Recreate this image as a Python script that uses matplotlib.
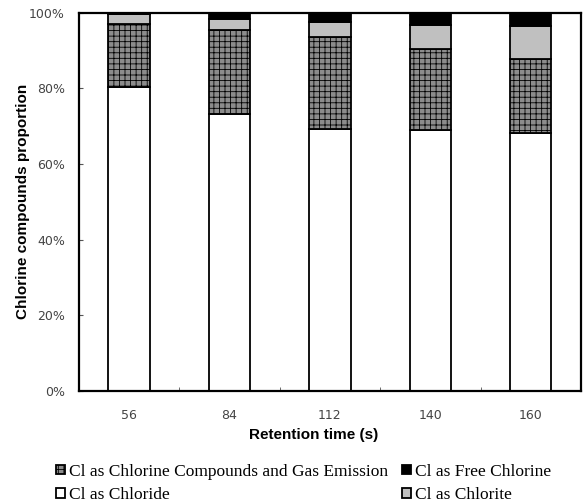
import matplotlib
matplotlib.use("Agg")
import matplotlib.pyplot as plt
import numpy as np

# retention time categories
times = ["56", "84", "112", "140", "160"]

# proportions (%), bottom to top
chloride = [80.4, 73.2, 69.2, 68.9, 68.1]
compounds = [16.6, 22.2, 24.3, 21.5, 19.6]
chlorite = [2.6, 2.9, 3.9, 6.3, 8.7]
free_cl = [0.4, 1.7, 2.6, 3.3, 3.6]

plt.rcParams['hatch.color'] = '#3a3a3a'
plt.rcParams['hatch.linewidth'] = 0.6

fig = plt.figure(figsize=(5.84, 5.04), dpi=100)
ax = fig.add_axes([0.135, 0.224, 0.86, 0.751])

x = np.arange(len(times))
w = 0.41
edge = dict(edgecolor='black', linewidth=1.3)

b_chloride = ax.bar(x, chloride, w, color='white', **edge)
bottom = np.array(chloride)
b_comp = ax.bar(x, compounds, w, bottom=bottom, color='#8c8c8c', hatch='+++', **edge)
bottom = bottom + np.array(compounds)
b_chlorite = ax.bar(x, chlorite, w, bottom=bottom, color='#c0c0c0', **edge)
bottom = bottom + np.array(chlorite)
b_free = ax.bar(x, free_cl, w, bottom=bottom, color='black', **edge)

ax.set_xlim(-0.5, len(times) - 0.5)
ax.set_ylim(0, 100)
ax.set_yticks(np.arange(0, 101, 20))
ax.set_yticklabels([f"{v}%" for v in range(0, 101, 20)])
ax.set_xticks(x)
ax.set_xticklabels(times)
ax.set_xticks(np.arange(0.5, len(times) - 1, 1), minor=True)
ax.tick_params(axis='x', which='major', length=0, pad=13)
ax.tick_params(axis='x', which='minor', direction='in', length=3, color='#555')
ax.tick_params(axis='y', direction='in', length=3, color='#555', pad=10)
for lab in ax.get_xticklabels() + ax.get_yticklabels():
    lab.set_fontsize(9)
    lab.set_color('#444')
    lab.set_family('DejaVu Sans')

for s in ax.spines.values():
    s.set_linewidth(1.6)
    s.set_color('black')

ax.set_xlabel("Retention time (s)", fontsize=11, fontweight='bold',
              family='Liberation Sans')
ax.set_ylabel("Chlorine compounds proportion", fontsize=11, fontweight='bold',
              family='Liberation Sans')
ax.xaxis.set_label_coords(0.467, -0.098)
ax.yaxis.set_label_coords(-0.098, 0.5)

handles = [b_comp, b_chloride, b_free, b_chlorite]
labels = ["Cl as Chlorine Compounds and Gas Emission", "Cl as Chloride",
          "Cl as Free Chlorine", "Cl as Chlorite"]
fig.legend(handles, labels, ncol=2, loc='upper left', bbox_to_anchor=(0.096, 0.080),
           frameon=False, prop={'family': 'Liberation Serif', 'size': 12.5},
           handlelength=0.5, handleheight=0.5, handletextpad=0.25,
           labelspacing=0.42, columnspacing=0.8, borderpad=0, borderaxespad=0)

fig.savefig("out.png", dpi=100)
